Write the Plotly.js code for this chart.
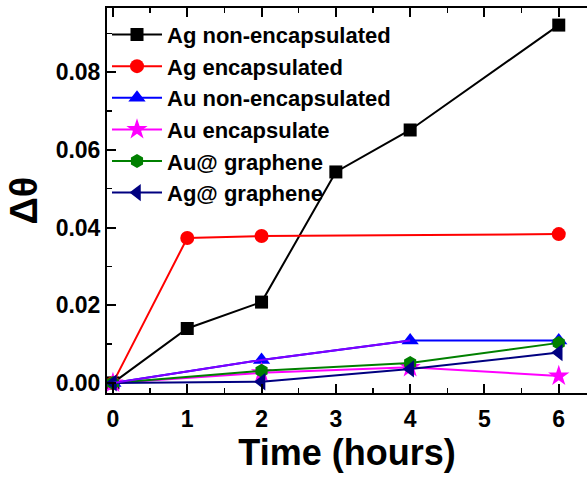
<!DOCTYPE html>
<html><head><meta charset="utf-8">
<script src="https://cdn.plot.ly/plotly-3.0.1.min.js"></script>
<style>body{margin:0;padding:0;background:#fff}#chart{width:587px;height:479px}</style>
</head><body><div id="chart"></div>
<script>
var xAgNon = [0, 1, 2, 3, 4, 6];
var yAgNon = [0, 0.0140, 0.0208, 0.0543, 0.0651, 0.0921];
var xAgEnc = [0, 1, 2, 6];
var yAgEnc = [0, 0.0373, 0.0378, 0.0383];
var xAuNon = [0, 2, 4, 6];
var yAuNon = [0, 0.0059, 0.0109, 0.0109];
var xAuEnc = [0, 2, 4, 6];
var yAuEnc = [0, 0.0026, 0.0040, 0.0018];
var xAuGr = [0, 2, 4, 6];
var yAuGr = [0, 0.0031, 0.0051, 0.0103];
var xAgGr = [0, 2, 4, 6];
var yAgGr = [0, 0.0003, 0.0036, 0.0078];
var names = ['Ag non-encapsulated','Ag encapsulated','Au non-encapsulated','Au encapsulate','Au@ graphene','Ag@ graphene'];

function tr(x,y,name,color,sym,size,g){
  return {x:x,y:y,name:name,type:'scatter',mode:'lines+markers',legendgroup:g,
    line:{color:color,width:2},marker:{symbol:sym,size:size,color:color}};
}
var traces = [
  tr(xAgNon,yAgNon,names[0],'#000000','square',13,'a'),
  tr(xAgEnc,yAgEnc,names[1],'#ff0000','circle',14,'b'),
  tr(xAuNon,yAuNon,names[2],'#0000ff','triangle-up',15,'c'),
  tr(xAuEnc,yAuEnc,names[3],'#ff00ff','star',16,'d'),
  tr(xAuGr,yAuGr,names[4],'#008000','hexagon',14,'e'),
  tr(xAgGr,yAgGr,names[5],'#000080','triangle-left',15,'f')
];
// violet segment of Au non-encapsulated line
traces.push({x:xAuNon.slice(0,3),y:yAuNon.slice(0,3),type:'scatter',mode:'lines',showlegend:false,
  line:{color:'#8000ff',width:2},hoverinfo:'skip'});
var layout = {
  width:587,height:479,
  margin:{l:107,r:0,t:8,b:86},
  paper_bgcolor:'#fff',plot_bgcolor:'#fff',
  font:{family:'Arial, Liberation Sans, sans-serif',color:'#000'},
  showlegend:true,
  legend:{x:0.0,y:0.985,xanchor:'left',yanchor:'top',bgcolor:'rgba(0,0,0,0)',
    font:{size:22,family:'Arial, Liberation Sans, sans-serif',weight:'bold'},
    traceorder:'grouped',tracegroupgap:0,itemwidth:50},
  xaxis:{range:[-0.08,6.38],showline:true,linecolor:'#000',linewidth:2,mirror:'ticks',
    ticks:'inside',ticklen:9,tickwidth:2,tickcolor:'#000',dtick:1,tick0:0,
    minor:{ticks:'inside',ticklen:5,tickwidth:1.5,dtick:0.5,tickcolor:'#000'},
    showgrid:false,zeroline:false,ticklabelstandoff:4,
    tickfont:{size:23,weight:'bold'},
    title:{text:'Time (hours)',font:{size:36,weight:'bold'},standoff:6}},
  yaxis:{range:[-0.0026,0.0965],showline:true,linecolor:'#000',linewidth:2,mirror:false,
    ticks:'inside',ticklen:9,tickwidth:2,tickcolor:'#000',dtick:0.02,tick0:0,tickformat:'.2f',
    minor:{ticks:'inside',ticklen:5,tickwidth:1.5,dtick:0.01,tickcolor:'#000'},
    showgrid:false,zeroline:false,
    tickfont:{size:23,weight:'bold'},
    title:{text:'Δθ',font:{size:38,weight:'bold'},standoff:6}}
};
Plotly.newPlot('chart',traces,layout,{displayModeBar:false,staticPlot:true});
</script></body></html>
